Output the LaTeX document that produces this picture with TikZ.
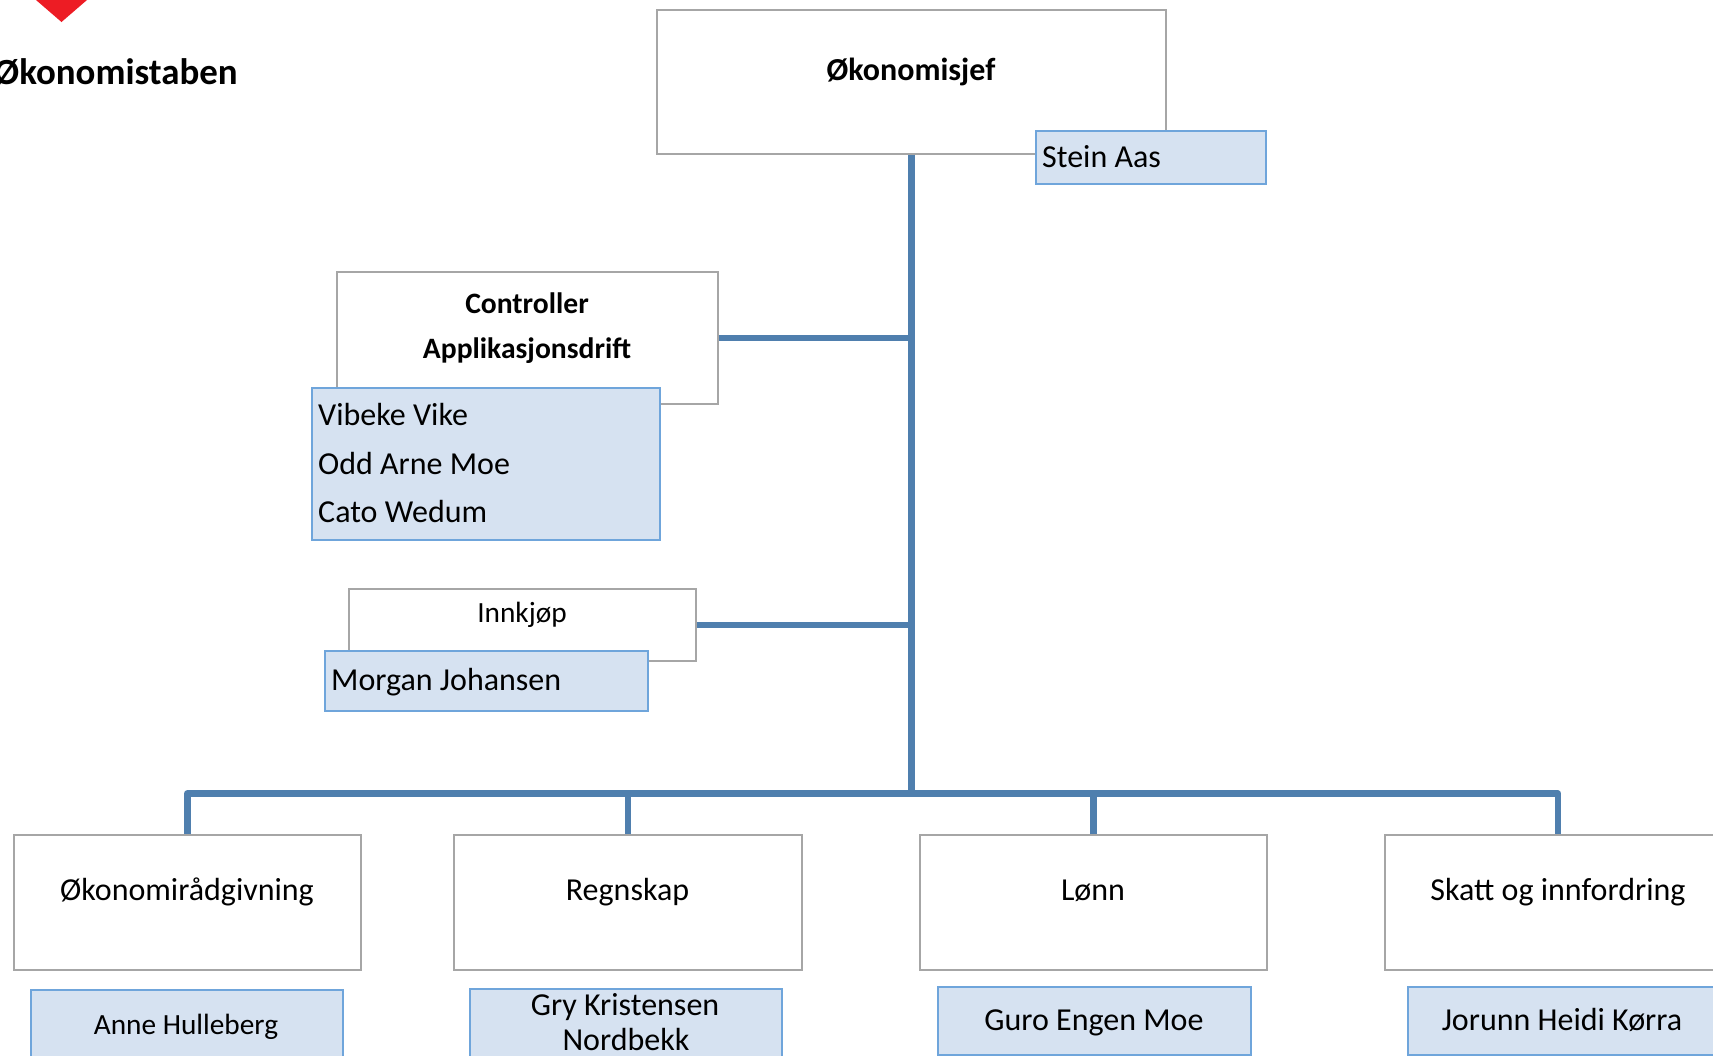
\documentclass[tikz,border=0pt]{standalone}
\usepackage{fontspec}
\setmainfont{Carlito}
\definecolor{linkblue}{HTML}{4F7FAE}
\definecolor{boxgray}{HTML}{A6A6A6}
\definecolor{nameedge}{HTML}{6FA5DB}
\definecolor{namefill}{HTML}{D6E2F1}
\definecolor{logored}{HTML}{ED1C24}
\tikzset{
  box/.style={draw=boxgray,line width=1.6pt,fill=white,inner sep=0pt},
  namebox/.style={draw=nameedge,line width=1.8pt,fill=namefill,inner sep=0pt},
  link/.style={draw=linkblue,line width=6.5pt,line join=round},
  big/.style={font=\fontsize{32}{38}\selectfont,inner sep=0pt,anchor=base,text=black},
  bold/.style={font=\fontsize{32}{38}\selectfont\bfseries,inner sep=0pt,anchor=base,text=black},
  boldsm/.style={font=\fontsize{29.6}{35}\selectfont\bfseries,inner sep=0pt,anchor=base,text=black},
  mid/.style={font=\fontsize{29.3}{35}\selectfont,inner sep=0pt,anchor=base,text=black},
}
\newcommand{\rectnode}[6][box]{% style,name,x1,y1,x2,y2
  \node[#1,minimum width={(#5)*1pt-(#3)*1pt},minimum height={(#6)*1pt-(#4)*1pt},anchor=north west] (#2) at (#3,#4) {};}
\begin{document}
\begin{tikzpicture}[x=1pt,y=-1pt]
\clip (0,0) rectangle (1713,1055);
\fill[white] (0,0) rectangle (1713,1055);
\fill[logored] (36,0) -- (61.5,22) -- (87,0) -- cycle;
\node[font=\fontsize{36.9}{43}\selectfont\bfseries,inner sep=0pt,anchor=base west] (title) at (-6,84) {Økonomistaben};
% grey boxes
\rectnode{chief}{656}{9}{1165}{153}
\rectnode{ctrl}{336}{271}{717}{403}
\rectnode{innk}{348}{588}{695}{660}
\rectnode{adv}{13}{834}{360}{969}
\rectnode{regn}{453}{834}{801}{969}
\rectnode{lonn}{919}{834}{1266}{969}
\rectnode{skatt}{1384}{834}{1730}{969}
% connectors
\begin{scope}[xshift=-1pt]
\coordinate (trunk) at (chief.south);
\coordinate (busr) at (skatt.north |- 0,793.5);
\coordinate (busl) at (adv.north |- 0,793.5);
\coordinate (busm) at (trunk |- 0,793.5);
\draw[link] (chief.south) -- (busm);
\draw[link] (ctrl.east) -- (ctrl.east -| trunk);
\draw[link] (innk.east) -- (innk.east -| trunk);
\draw[link] (adv.north) -- (busl) -- (busr) -- (skatt.north);
\draw[link] (regn.north) -- (regn.north |- busm);
\draw[link] (lonn.north) -- (lonn.north |- busm);
\end{scope}
% name boxes
\rectnode[namebox]{stein}{1035}{130}{1265}{183}
\rectnode[namebox]{ctrlnames}{311}{387}{659}{539}
\rectnode[namebox]{morgan}{324}{650}{647}{710}
\rectnode[namebox]{anne}{30}{989}{342}{1075}
\rectnode[namebox]{gry}{469}{988}{781}{1075}
\rectnode[namebox]{guro}{937}{986}{1250}{1054}
\rectnode[namebox]{jorunn}{1407}{986}{1730}{1054}
% texts
\node[bold] (t1) at (911,80) {Økonomisjef};
\node[big,anchor=base west] (t2) at (1042,167) {Stein Aas};
\node[boldsm] (t3) at (527,313) {Controller};
\node[boldsm] (t4) at (527,358) {Applikasjonsdrift};
\node[big,anchor=base west] (t5) at (318,425) {Vibeke Vike};
\node[big,anchor=base west] (t6) at (318,474) {Odd Arne Moe};
\node[big,anchor=base west] (t7) at (318,522) {Cato Wedum};
\node[mid] (t8) at (522,622) {Innkjøp};
\node[big,anchor=base west] (t9) at (331,690) {Morgan Johansen};
\node[big] (t10) at (187,900) {Økonomirådgivning};
\node[big] (t11) at (627.5,900) {Regnskap};
\node[big] (t12) at (1093,900) {Lønn};
\node[big] (t13) at (1558,900) {Skatt og innfordring};
\node[mid] (t14) at (186,1034) {Anne Hulleberg};
\node[big] (t15) at (625,1015) {Gry Kristensen};
\node[big] (t16) at (626,1050) {Nordbekk};
\node[big] (t17) at (1094,1030) {Guro Engen Moe};
\node[big] (t18) at (1562,1030) {Jorunn Heidi Kørra};
\end{tikzpicture}
\end{document}
